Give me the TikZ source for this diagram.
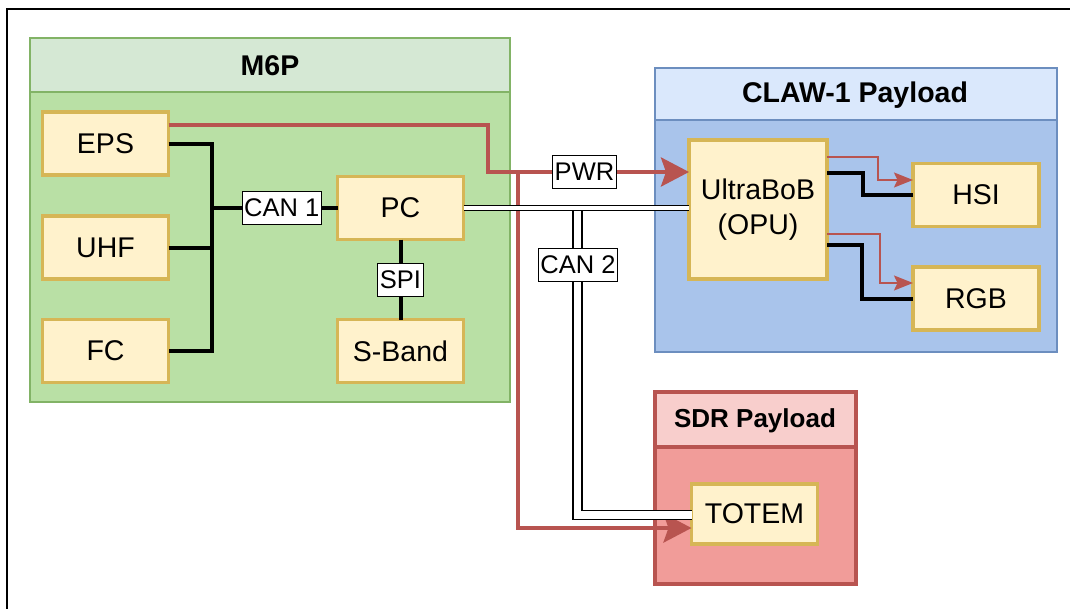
\documentclass[tikz,border=0pt]{standalone}
\usepackage{fontspec}
\setmainfont{Liberation Sans}
\usetikzlibrary{arrows.meta,calc}
\definecolor{gfill}{HTML}{B9E0A5}\definecolor{ghead}{HTML}{D5E8D4}\definecolor{gline}{HTML}{82B366}
\definecolor{bfill}{HTML}{A9C4EB}\definecolor{bhead}{HTML}{DAE8FC}\definecolor{bline}{HTML}{6C8EBF}
\definecolor{rfill}{HTML}{F19C99}\definecolor{rhead}{HTML}{F8CECC}\definecolor{rline}{HTML}{B85450}
\definecolor{yfill}{HTML}{FFF2CC}\definecolor{yline}{HTML}{D6B656}
\tikzset{
  unit/.style={draw=yline, fill=yfill, line width=3.5pt, minimum width=126pt, minimum height=63pt,
    inner sep=0pt, outer sep=0pt, font=\fontsize{28.5}{35}\selectfont, align=center},
  ttl/.style={font=\bfseries\fontsize{28.5}{32}\selectfont, inner sep=0pt},
  lbl/.style={draw=black, fill=white, line width=1pt, inner xsep=2pt, inner ysep=0pt,
    minimum height=33pt, font=\fontsize{25.5}{30}\selectfont},
  bus/.style={draw=black, line width=4pt},
  pwr/.style={draw=rline, line width=4pt, -{Stealth[length=28pt,width=29pt,inset=5pt]}},
  pwrthin/.style={draw=rline, line width=2pt, -{Stealth[length=19pt,width=15pt,inset=3.5pt]}},
  canmain/.style={draw=black, line width=1.5pt, double=white, double distance=3.6pt},
  canbranch/.style={draw=black, line width=1.6pt, double=white, double distance=7.4pt},
}
\begin{document}
\begin{tikzpicture}[x=1pt,y=-1pt]
\useasboundingbox (0,0) rectangle (1070,608);
\fill[white] (0,0) rectangle (1070,608);
% outer frame
\draw[line width=2.5pt] (7,610) -- (7,9) -- (1072,9);

% M6P container
\draw[draw=gline, fill=gfill, line width=2pt] (30,38) rectangle (510,402);
\draw[draw=gline, fill=ghead, line width=2pt] (30,38) rectangle (510,92);
\node[ttl] (m6p) at (270,66) {M6P};

% CLAW-1 container
\draw[draw=bline, fill=bfill, line width=2pt] (655,68) rectangle (1057,352);
\draw[draw=bline, fill=bhead, line width=2pt] (655,68) rectangle (1057,120);
\node[ttl] (claw) at (855,95) {CLAW-1 Payload};

% SDR container
\draw[draw=rline, fill=rfill, line width=4pt] (655,392) rectangle (856,584);
\draw[draw=rline, fill=rhead, line width=4pt] (655,392) rectangle (856,447);
\node[ttl, font=\bfseries\fontsize{26}{30}\selectfont] (sdr) at (755,421) {SDR Payload};

% units
\node[unit] (eps) at (105.5,143.5) {EPS};
\node[unit] (uhf) at (105.5,247.5) {UHF};
\node[unit] (fc) at (105.5,351) {FC};
\node[unit] (pc) at (400.5,208) {PC};
\node[unit] (sband) at (400.5,351) {S-Band};
\node[unit, minimum width=138pt, minimum height=139pt] (ultra) at (758,209.5) {UltraBoB\\(OPU)};
\node[unit] (hsi) at (976,195) {HSI};
\node[unit] (rgb) at (976,298.5) {RGB};
\node[unit, minimum height=60pt] (totem) at (754.5,514) {TOTEM};

% CAN 1 bus
\draw[bus] (eps.east) -- ++(43,0) |- (fc.east);
\draw[bus] (uhf.east) -- ++(43,0);
\draw[bus] (pc.west) -- ++(-124,0) node[lbl, pos=0.45] (can1) {CAN 1};
% SPI
\draw[bus] (pc.south) -- (sband.north) node[lbl, midway] (spi) {SPI};

% power
\coordinate (pj) at (488,172);
\coordinate (pj2) at (518,172);
\draw[pwr] ([yshift=18.5pt]eps.east) -| (pj) -- ([yshift=37.5pt]ultra.west)
  node[lbl, pos=0.48, fill=white, text=black] (pwrl) {PWR};
\draw[pwr] (pj2) |- ([yshift=-14pt]totem.west);

% CAN 2
\draw[canmain] (pc.east) -- (pc.east -| ultra.west);
\coordinate (cb) at (577.5,211);
\draw[canbranch] (cb) |- ([yshift=-1pt]totem.west);
\node[lbl] (can2) at (578,265) {CAN 2};

% payload internal links
\draw[bus] ([yshift=36.5pt]ultra.east) -- ++(36,0) |- (hsi.west);
\draw[pwrthin] ([yshift=52.5pt]ultra.east) -- ++(51,0) |- ([yshift=15pt]hsi.west);
\draw[bus] ([yshift=-35.5pt]ultra.east) -- ++(35,0) |- (rgb.west);
\draw[pwrthin] ([yshift=-24.5pt]ultra.east) -- ++(53,0) |- ([yshift=15.5pt]rgb.west);
\end{tikzpicture}
\end{document}
